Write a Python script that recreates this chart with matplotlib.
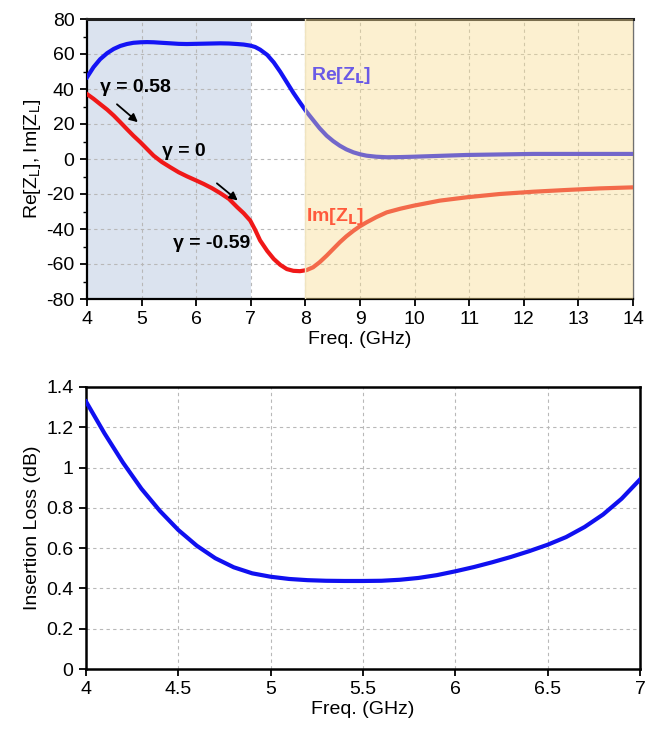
import matplotlib
matplotlib.use("Agg")
import matplotlib.pyplot as plt
from matplotlib.ticker import MultipleLocator

plt.rcParams['font.family'] = ['Liberation Sans', 'DejaVu Sans']
plt.rcParams['axes.unicode_minus'] = False

# ---- data: top chart (load impedance) ----
freq_top = [4.0, 4.12, 4.24, 4.37, 4.49, 4.61, 4.73, 4.85, 4.98, 5.1, 5.22, 5.37, 5.53,
            5.68, 5.83, 5.98, 6.14, 6.29, 6.44, 6.6, 6.75, 6.87, 6.99, 7.08, 7.17,
            7.3, 7.42, 7.54, 7.66, 7.78, 7.9, 8.02, 8.14, 8.26, 8.39, 8.51, 8.63,
            8.75, 8.88, 9.0, 9.12, 9.3, 9.49, 9.74, 9.98, 10.46, 10.95, 11.56,
            12.17, 12.78, 13.39, 14.0]
re_zl = [46.7, 52.5, 57.0, 60.5, 62.9, 64.6, 65.7, 66.4, 66.7, 66.8, 66.7, 66.4, 66.1,
         65.8, 65.7, 65.8, 65.9, 66.0, 66.1, 66.0, 65.7, 65.4, 64.8, 64.0, 62.5,
         59.5, 55.2, 49.8, 43.8, 37.8, 32.3, 27.0, 22.3, 17.6, 13.3, 10.2, 7.6,
         5.5, 3.8, 2.7, 1.9, 1.3, 1.0, 1.1, 1.3, 1.8, 2.3, 2.6,
         2.9, 2.9, 2.9, 2.9]
im_zl = [37.1, 34.4, 31.4, 28.2, 24.8, 21.0, 17.1, 13.3, 9.5, 5.7, 1.9, -1.7, -4.8,
         -7.6, -9.9, -12.0, -14.3, -16.7, -19.5, -22.8, -27.5, -31.0, -35.2, -40.5, -46.5,
         -52.5, -57.1, -60.5, -62.9, -63.9, -64.1, -63.5, -61.9, -59.0, -55.2, -51.4, -47.6,
         -44.2, -41.0, -38.4, -36.2, -33.2, -30.5, -28.4, -26.7, -23.8, -21.9, -20.0,
         -18.7, -17.7, -16.8, -16.2]

# ---- data: bottom chart (insertion loss) ----
freq_il = [4.0, 4.1, 4.2, 4.3, 4.4, 4.5, 4.6, 4.7, 4.8, 4.9, 5.0, 5.1, 5.2, 5.3, 5.4,
           5.5, 5.6, 5.7, 5.8, 5.9, 6.0, 6.1, 6.2, 6.3, 6.4, 6.5, 6.6, 6.7, 6.8, 6.9, 7.0]
il_db = [1.328, 1.17, 1.025, 0.895, 0.785, 0.69, 0.612, 0.55, 0.505, 0.475, 0.458,
         0.447, 0.441, 0.438, 0.437, 0.437, 0.438, 0.443, 0.452, 0.466, 0.485, 0.506,
         0.53, 0.556, 0.585, 0.617, 0.655, 0.705, 0.767, 0.845, 0.941]

fig = plt.figure(figsize=(6.59, 7.30), dpi=100)
ax1 = fig.add_axes([87/659, 1-299/730, 546/659, 280/730])
ax2 = fig.add_axes([86/659, 1-669/730, 554/659, 282/730])

grid_kw = dict(color='#b8b8b8', linestyle=(0, (3, 3)), linewidth=0.8)

# ---------- top chart ----------
ax1.axvspan(4, 7, color='#dbe3ef', zorder=0, lw=0)
ax1.plot(freq_top, re_zl, color='#1414f5', lw=3, zorder=3, solid_joinstyle='round')
ax1.plot(freq_top, im_zl, color='#f01818', lw=3, zorder=3, solid_joinstyle='round')
ax1.axvspan(8, 14, facecolor='#f8dc90', alpha=0.42, zorder=4, lw=0)
ax1.axvline(8, color='#f0e4c0', lw=1.0, zorder=4)

ax1.set_xlim(4, 14)
ax1.set_ylim(-80, 80)
ax1.xaxis.set_major_locator(MultipleLocator(1))
ax1.yaxis.set_major_locator(MultipleLocator(20))
ax1.yaxis.set_minor_locator(MultipleLocator(10))
ax1.grid(True, which='major', zorder=1, **grid_kw)
ax1.set_axisbelow(True)
ax1.tick_params(axis='both', which='major', direction='out', length=5, width=1.3,
                labelsize=14, pad=4)
ax1.tick_params(axis='y', which='minor', direction='out', length=3, width=1.0)
for s in ['left', 'bottom']:
    ax1.spines[s].set_linewidth(1.6)
    ax1.spines[s].set_color('black')
ax1.spines['top'].set_linewidth(2.2)
ax1.spines['top'].set_color('#202020')
ax1.spines['right'].set_linewidth(1.0)
ax1.spines['right'].set_color('#707070')
ax1.set_xlabel('Freq. (GHz)', fontsize=14, labelpad=2)
ax1.set_ylabel('Re[Z$_\\mathregular{L}$], Im[Z$_\\mathregular{L}$]', fontsize=14, labelpad=2)

ann_kw = dict(fontsize=14, fontweight='bold', color='black', zorder=6)
ax1.text(4.24, 41, 'γ = 0.58', ha='left', va='center', **ann_kw)
ax1.text(5.37, 4, 'γ = 0', ha='left', va='center', **ann_kw)
ax1.text(5.58, -48, 'γ = -0.59', ha='left', va='center', **ann_kw)
arrow_kw = dict(arrowstyle='-|>', color='black', lw=1.3, mutation_scale=12)
ax1.annotate('', xy=(4.97, 20), xytext=(4.51, 32.3), arrowprops=arrow_kw, zorder=6)
ax1.annotate('', xy=(6.80, -24.7), xytext=(6.34, -12.9), arrowprops=arrow_kw, zorder=6)
ax1.text(8.10, 47.6, 'Re[Z$_\\mathbf{L}$]', ha='left', va='center', fontsize=14,
         fontweight='bold', color='#6a5ae6', zorder=6)
ax1.text(8.01, -32.6, 'Im[Z$_\\mathbf{L}$]', ha='left', va='center', fontsize=14,
         fontweight='bold', color='#ff5a3c', zorder=6)

# ---------- bottom chart ----------
ax2.plot(freq_il, il_db, color='#1010f0', lw=3, zorder=3, solid_joinstyle='round')
ax2.set_xlim(4, 7)
ax2.set_ylim(0, 1.4)
ax2.grid(True, which='major', zorder=1, **grid_kw)
ax2.set_axisbelow(True)
ax2.set_xticks([4, 4.5, 5, 5.5, 6, 6.5, 7])
ax2.set_xticklabels(['4', '4.5', '5', '5.5', '6', '6.5', '7'])
ax2.set_yticks([0, 0.2, 0.4, 0.6, 0.8, 1.0, 1.2, 1.4])
ax2.set_yticklabels(['0', '0.2', '0.4', '0.6', '0.8', '1', '1.2', '1.4'])
ax2.tick_params(axis='both', which='major', direction='out', length=5, width=1.3,
                labelsize=14, pad=4)
for s in ax2.spines.values():
    s.set_linewidth(1.8)
    s.set_color('black')
ax2.set_xlabel('Freq. (GHz)', fontsize=14, labelpad=2)
ax2.set_ylabel('Insertion Loss (dB)', fontsize=14, labelpad=4)

fig.savefig('out.png', dpi=100)
